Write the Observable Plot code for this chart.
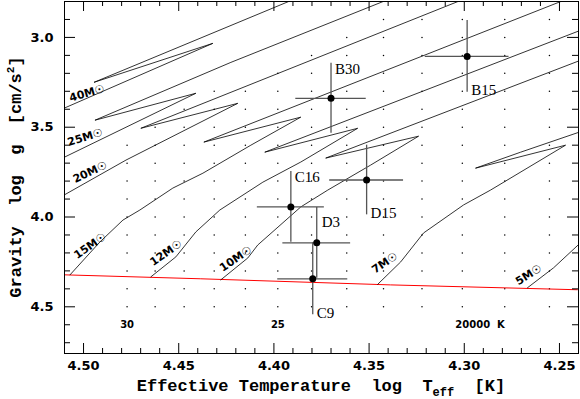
<!DOCTYPE html>
<html><head><meta charset="utf-8">
<script src="https://cdn.jsdelivr.net/npm/d3@7"></script>
<script src="https://cdn.jsdelivr.net/npm/@observablehq/plot@0.6"></script>
<style>body{margin:0;background:#fff} svg{display:block}</style>
</head><body><div id="chart"></div>
<script>
// ---------- data (log Teff, log g) ----------
const track40 = [[4.5223,3.450],[4.4321,3.033],[4.4945,3.250],[4.3859,2.772]];
const track25 = [[4.5223,3.730],[4.4410,3.311],[4.4940,3.461],[4.4226,3.139],[4.3360,2.772]];
const track20 = [[4.5223,3.950],[4.4777,3.683],[4.4190,3.367],[4.4699,3.506],[4.2967,2.772]];
const track15 = [[4.5071,4.322],[4.4914,4.139],[4.4793,4.017],[4.4704,3.961],[4.4531,3.839],[4.4373,3.756],[4.4121,3.600],[4.3859,3.444],[4.4368,3.583],[4.2426,2.772]];
const track12 = [[4.4646,4.333],[4.4515,4.222],[4.4410,4.083],[4.4284,3.961],[4.4058,3.806],[4.3859,3.694],[4.3560,3.506],[4.4048,3.639],[4.2337,2.939]];
const track10 = [[4.4279,4.350],[4.4137,4.228],[4.4085,4.156],[4.3859,3.944],[4.3717,3.850],[4.3492,3.711],[4.3240,3.550],[4.3728,3.672],[4.2337,3.106]];
const track7  = [[4.3455,4.375],[4.3334,4.250],[4.3214,4.089],[4.3004,3.933],[4.2862,3.850],[4.2468,3.600],[4.2941,3.728],[4.2704,3.639],[4.2337,3.506]];
const track5  = [[4.2668,4.394],[4.2531,4.283],[4.2390,4.144],[4.2337,4.094]];
const trackMasses = ["40","25","20","15","12","10","7","5"];

const zamsLogT = [4.51, 4.4384, 4.3387, 4.2406];
const zamsLogg = [4.322, 4.344, 4.378, 4.405];

const trackLabelText  = ["40M☉","25M☉","20M☉","15M☉","12M☉","10M☉","7M☉","5M☉"];
const trackLabelLogT  = [4.4982, 4.4992, 4.4966, 4.4966, 4.4567, 4.4200, 4.3418, 4.2662];
const trackLabelLogg  = [3.311, 3.556, 3.750, 4.161, 4.200, 4.233, 4.256, 4.322];
const trackLabelAngle = [-16, -17, -25, -35, -35, -34, -34, -32];

const starNames    = ["B30","B15","C16","D15","D3","C9"];
const starLogT     = [4.370, 4.2985, 4.3911, 4.3513, 4.3775, 4.3796];
const starLogTErr  = [0.0185, 0.022, 0.0176, 0.0194, 0.0178, 0.0184];
const starLogg     = [3.339, 3.106, 3.944, 3.794, 4.144, 4.344];
const starLoggErr  = [0.195, 0.20, 0.197, 0.194, 0.197, 0.20];
const starLabelEnd = ["top","bottom","top","bottom","top2","bottom"];

const gridTeff     = [30000,29000,28000,27000,26000,25000,24000,23000,22000,21000,20000,19000,18000];
const gridMinLogg  = [3.6,3.5,3.4,3.3,3.3,3.2,3.1,3.0,2.9,2.9,2.9,2.9,2.9];
const gridMaxLogg  = 4.5;

const teffLabelValues = [30000, 25000, 20000];
const teffLabelText   = ["30", "25", "20000  K"];

const xMajor = [4.25, 4.30, 4.35, 4.40, 4.45, 4.50];
const xMinor = d3.range(425, 451).map(v => v / 100);
const yMajor = [3.0, 3.5, 4.0, 4.5];
const yMinor = d3.range(29, 48).map(v => v / 10);

// ---------- build tables ----------
const trackPts = [track40, track25, track20, track15, track12, track10, track7, track5];
const trackRows = trackPts.flatMap((pts, i) => pts.map(([T, g]) => ({mass: trackMasses[i], T, g})));
const zamsRows = zamsLogT.map((T, i) => ({T, g: zamsLogg[i]}));
const labelRows = trackLabelText.map((t, i) => ({text: t, T: trackLabelLogT[i], g: trackLabelLogg[i], a: trackLabelAngle[i]}));
const stars = starNames.map((n, i) => ({name: n, T: starLogT[i], eT: starLogTErr[i], g: starLogg[i], eg: starLoggErr[i], end: starLabelEnd[i]}));
const gridRows = gridTeff.flatMap((t, i) => d3.range(Math.round(gridMinLogg[i]*10), Math.round(gridMaxLogg*10) + 1).map(k => ({T: Math.log10(t), g: k / 10})));
const teffRows = teffLabelValues.map((t, i) => ({T: Math.log10(t), text: teffLabelText[i]}));

const W = 580, H = 399, mL = 64, mR = 2, mT = 1, mB = 46;
const pW = W - mL - mR, pH = H - mT - mB;
const isMaj = v => Math.round(v * 100) % 5 === 0;
const isMajY = v => Math.round(v * 10) % 5 === 0;
const serif = "Liberation Serif";

const plot = Plot.plot({
  width: W, height: H, marginLeft: mL, marginRight: mR, marginTop: mT, marginBottom: mB,
  x: {domain: [4.51, 4.24], axis: null},
  y: {domain: [4.76, 2.8], axis: null},
  style: {fontFamily: "DejaVu Sans", background: "white", color: "black"},
  marks: [
    Plot.dot(gridRows, {x: "T", y: "g", r: 0.75, fill: "black", stroke: null}),
    Plot.line(zamsRows, {x: "T", y: "g", stroke: "red", strokeWidth: 1, clip: true}),
    Plot.line(trackRows, {x: "T", y: "g", z: "mass", stroke: "black", strokeWidth: 0.8, clip: true}),
    Plot.ruleY(stars, {y: "g", x1: d => d.T - d.eT, x2: d => d.T + d.eT, stroke: "#555", strokeWidth: 1.3}),
    Plot.ruleX(stars, {x: "T", y1: d => d.g - d.eg, y2: d => d.g + d.eg, stroke: "#555", strokeWidth: 1.3}),
    Plot.dot(stars, {x: "T", y: "g", r: 3.5, fill: "black", stroke: null}),
    Plot.text(stars.filter(d => d.end === "top"), {x: "T", y: d => d.g - d.eg, text: "name", textAnchor: "start", lineAnchor: "top", dx: 4, dy: 0, fontFamily: serif, fontSize: 15}),
    Plot.text(stars.filter(d => d.end === "top2"), {x: "T", y: d => d.g - d.eg, text: "name", textAnchor: "start", lineAnchor: "top", dx: 5, dy: 9, fontFamily: serif, fontSize: 15}),
    Plot.text(stars.filter(d => d.end === "bottom"), {x: "T", y: d => d.g + d.eg, text: "name", textAnchor: "start", lineAnchor: "bottom", dx: 4, dy: 3, fontFamily: serif, fontSize: 15}),
    Plot.text(labelRows, {x: "T", y: "g", text: "text", rotate: "a", fontSize: 11, fontWeight: "bold"}),
    Plot.text(teffRows.filter(d => d.text.length <= 3), {x: "T", text: "text", frameAnchor: "bottom", dy: -26, fontSize: 10, fontWeight: "bold"}),
    Plot.text(teffRows.filter(d => d.text.length > 3), {x: "T", text: "text", frameAnchor: "bottom", dy: -26, dx: -7, textAnchor: "start", fontSize: 10, fontWeight: "bold"}),
    // ticks bottom/top
    Plot.tickX(xMinor.filter(d => !isMaj(d)), {x: d => d, insetTop: pH - 5, stroke: "black"}),
    Plot.tickX(xMinor.filter(isMaj), {x: d => d, insetTop: pH - 10, stroke: "black"}),
    Plot.tickX(xMinor.filter(d => !isMaj(d)), {x: d => d, insetBottom: pH - 5, stroke: "black"}),
    Plot.tickX(xMinor.filter(isMaj), {x: d => d, insetBottom: pH - 10, stroke: "black"}),
    // ticks left/right
    Plot.tickY(yMinor.filter(d => !isMajY(d)), {y: d => d, insetRight: pW - 6, stroke: "black"}),
    Plot.tickY(yMinor.filter(isMajY), {y: d => d, insetRight: pW - 11, stroke: "black"}),
    Plot.tickY(yMinor.filter(d => !isMajY(d)), {y: d => d, insetLeft: pW - 6, stroke: "black"}),
    Plot.tickY(yMinor.filter(isMajY), {y: d => d, insetLeft: pW - 11, stroke: "black"}),
    // tick labels
    Plot.text(xMajor, {x: d => d, frameAnchor: "bottom", dy: 16, text: d => d.toFixed(2), fontSize: 13, fontWeight: "bold"}),
    Plot.text(yMajor, {y: d => d, frameAnchor: "left", dx: -11, textAnchor: "end", text: d => d.toFixed(1), fontSize: 13, fontWeight: "bold"}),
    Plot.frame({stroke: "black", strokeWidth: 1})
  ]
});
document.getElementById("chart").appendChild(plot);

// axis titles (with sub/superscripts)
const svg = d3.select(plot);
const xt = svg.append("text")
  .attr("x", mL + pW / 2).attr("y", 391)
  .attr("text-anchor", "middle")
  .attr("font-family", "Liberation Mono").attr("font-size", 17).attr("font-weight", "bold")
  .attr("fill", "black").style("white-space", "pre");
xt.append("tspan").text("Effective Temperature  log  T");
xt.append("tspan").attr("font-size", 12).attr("dy", 5).text("eff");
xt.append("tspan").attr("dy", -5).text("  [K]");

const yt = svg.append("text")
  .attr("transform", `translate(21,${mT + pH / 2}) rotate(-90)`)
  .attr("text-anchor", "middle")
  .attr("font-family", "Liberation Mono").attr("font-size", 17).attr("font-weight", "bold")
  .attr("fill", "black").style("white-space", "pre");
yt.append("tspan").text("Gravity  log  g  [cm/s");
yt.append("tspan").attr("font-size", 11).attr("dy", -7).text("2");
yt.append("tspan").attr("dy", 7).text("]");
</script>
</body></html>
